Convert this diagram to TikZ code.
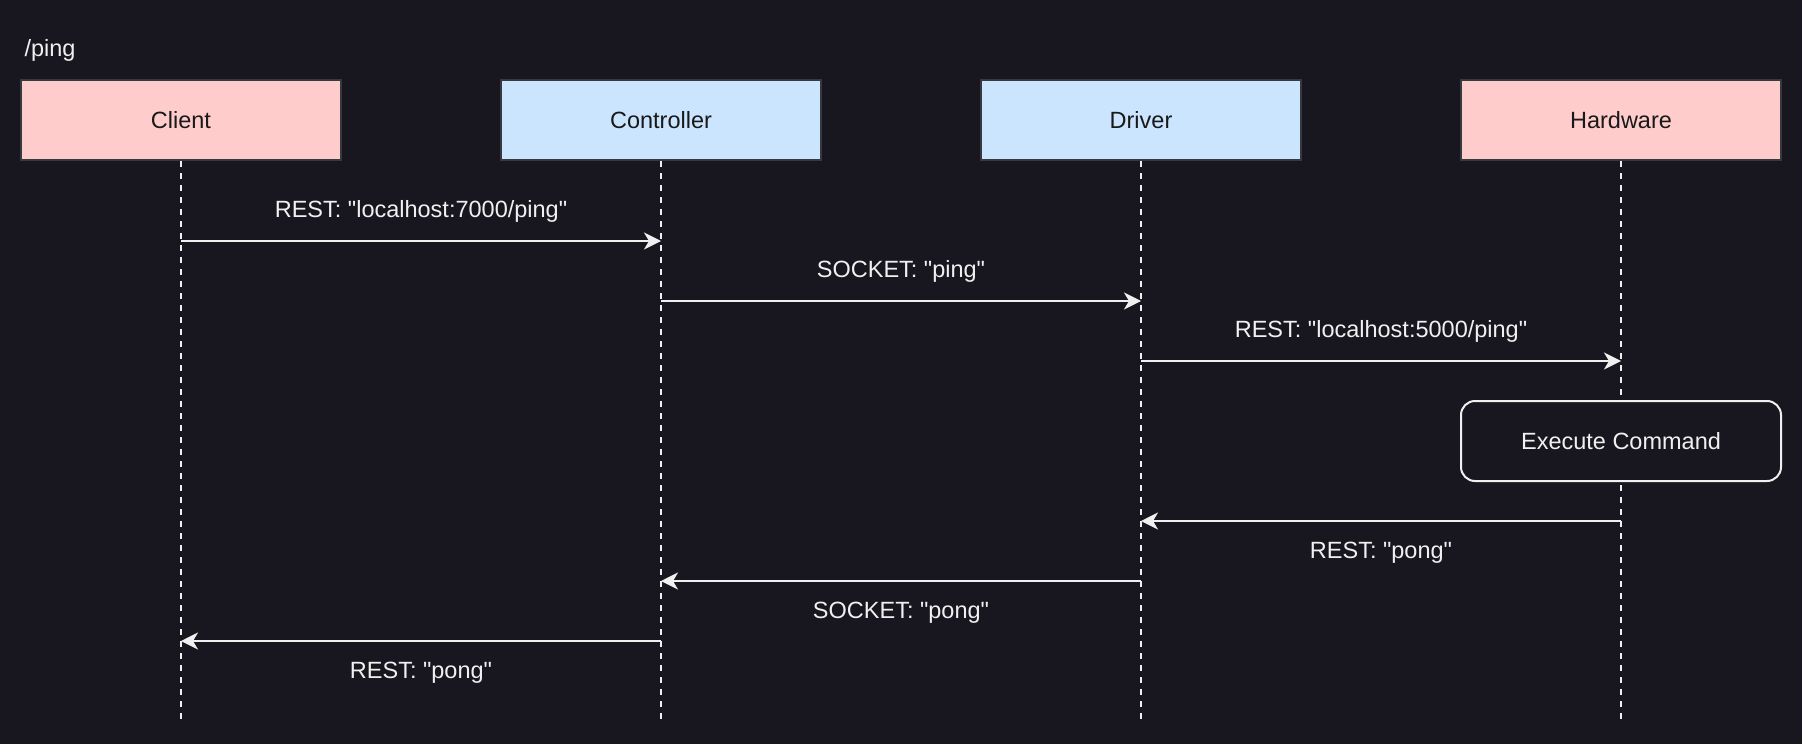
\documentclass[tikz,border=0pt]{standalone}
\usepackage{fontspec}
\setmainfont{Liberation Sans}[Ligatures=TeXOff]
\usetikzlibrary{arrows.meta}
\definecolor{bgdark}{HTML}{18171F}
\definecolor{pinkfill}{HTML}{FFCCCC}
\definecolor{bluefill}{HTML}{CCE5FF}
\definecolor{boxline}{HTML}{36393D}
\definecolor{inkwhite}{HTML}{F0F0F0}
\begin{document}
\begin{tikzpicture}[
        x=1pt, y=-1pt,
        font=\fontsize{23.5}{28}\selectfont,
        actor/.style={rectangle, draw=boxline, line width=2.5pt, minimum width=320pt, minimum height=80pt, text=black!90},
        hwbox/.style={actor, fill=pinkfill},
        swbox/.style={actor, fill=bluefill},
        lifeline/.style={inkwhite, line width=2pt, dash pattern=on 6pt off 6pt},
        action/.style={rectangle, draw=inkwhite, fill=bgdark, line width=2pt, rounded corners=14pt, minimum width=320pt, minimum height=80pt, text=inkwhite},
        msg/.style={-{Stealth[length=17pt, width=17pt, inset=5pt]}, inkwhite, line width=2pt},
        lbl/.style={text=inkwhite}
    ]
    
    \fill[bgdark] (0,0) rectangle (1802,744);
    
    \node[lbl, anchor=west] (title) at (21,50) {/ping};
    
    \node[hwbox] (client) at (181,120) {Client};
    \node[swbox] (ctrl) at (661,120) {Controller};
    \node[swbox] (driver) at (1141,120) {Driver};
    \node[hwbox] (hw) at (1621,120) {Hardware};
    
    % lifelines
    \coordinate (clientend) at (181,720);
    \coordinate (ctrlend) at (661,720);
    \coordinate (driverend) at (1141,720);
    \coordinate (hwend) at (1621,720);
    \draw[lifeline] (client.south) -- (clientend);
    \draw[lifeline] (ctrl.south) -- (ctrlend);
    \draw[lifeline] (driver.south) -- (driverend);
    \draw[lifeline] (hw.south) -- (hwend);
    
    \node[action] (exec) at (1621,441) {Execute Command};
    
    % requests
    \draw[msg] (client.south |- 0,241) -- node[lbl, above=14pt] {REST: "localhost:7000/ping"} (ctrl.south |- 0,241);
    \draw[msg] (ctrl.south |- 0,301) -- node[lbl, above=14pt] {SOCKET: "ping"} (driver.south |- 0,301);
    \draw[msg] (driver.south |- 0,361) -- node[lbl, above=14pt] {REST: "localhost:5000/ping"} (hw.south |- 0,361);
    
    % replies
    \draw[msg] (hw.south |- 0,521) -- node[lbl, below=17pt] {REST: "pong"} (driver.south |- 0,521);
    \draw[msg] (driver.south |- 0,581) -- node[lbl, below=17pt] {SOCKET: "pong"} (ctrl.south |- 0,581);
    \draw[msg] (ctrl.south |- 0,641) -- node[lbl, below=17pt] {REST: "pong"} (client.south |- 0,641);
    
    \useasboundingbox (0,0) rectangle (1802,744);
    \end{tikzpicture}
\end{document}
